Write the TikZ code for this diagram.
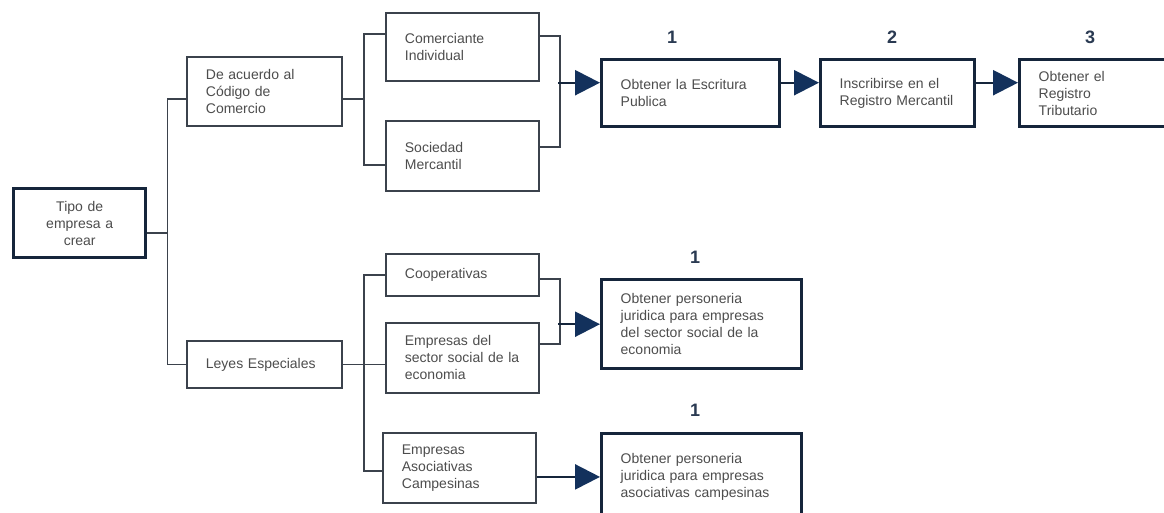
\documentclass[tikz,border=0pt]{standalone}
\usepackage{fontspec}
\setmainfont{Liberation Sans}
\usetikzlibrary{arrows.meta}

\definecolor{navyline}{HTML}{15253B}
\definecolor{greyline}{HTML}{3B424C}
\definecolor{arrowblue}{HTML}{13315C}
\definecolor{txt}{HTML}{4D4D4D}
\definecolor{numtxt}{HTML}{2A3A52}

\tikzset{
  x=1pt, y=-1pt,
  box/.style={draw=greyline, line width=1.8pt, rectangle, anchor=north west,
    inner xsep=19pt, inner ysep=0pt, align=left, text=txt,
    font=\fontsize{14}{17}\selectfont},
  stepbox/.style={box, draw=navyline, line width=3.4pt},
  conn/.style={draw=greyline, line width=1.8pt},
  arr/.style={draw=navyline, line width=2.4pt,
    -{Triangle[length=25pt,width=25pt,fill=arrowblue,color=arrowblue]}},
  stepnum/.style={text=numtxt, font=\fontsize{18}{20}\selectfont\bfseries}
}

\begin{document}
\begin{tikzpicture}
\useasboundingbox (0,0) rectangle (1164,512);
\clip (0,0) rectangle (1164,512);
\fill[white] (0,0) rectangle (1164,512);

% root
\node[stepbox, align=center, text width=94pt, minimum height=69pt] (tipo) at (12,187)
  {Tipo de\\empresa a\\crear};

% first level
\node[box, text width=117pt, minimum height=69pt] (acuerdo) at (186,56)
  {De acuerdo al\\Código de\\Comercio};
\node[box, text width=117pt, minimum height=47pt] (leyes) at (186,340)
  {Leyes Especiales};

% second level, commercial code
\node[box, text width=115pt, minimum height=68pt] (comer) at (385,12)
  {Comerciante\\Individual};
\node[box, text width=115pt, minimum height=70pt] (socie) at (385,120)
  {Sociedad\\Mercantil};

% second level, special laws
\node[box, text width=115pt, minimum height=42pt] (coop) at (385,253)
  {Cooperativas};
\node[box, text width=115pt, minimum height=70pt] (social) at (385,322)
  {Empresas del\\sector social de la\\economia};
\node[box, text width=115pt, minimum height=70pt] (asoc) at (382,432)
  {Empresas\\Asociativas\\Campesinas};

% steps
\node[stepbox, text width=140pt, minimum height=67pt] (escrit) at (600,58)
  {Obtener la Escritura\\Publica};
\node[stepbox, text width=116pt, minimum height=67pt] (inscr) at (819,58)
  {Inscribirse en el\\Registro Mercantil};
\node[stepbox, text width=119pt, minimum height=67pt] (tribut) at (1018,58)
  {Obtener el\\Registro\\Tributario};
\node[stepbox, text width=162pt, minimum height=89pt] (pers1) at (600,278)
  {Obtener personeria\\juridica para empresas\\del sector social de la\\economia};
\node[stepbox, text width=162pt, minimum height=86pt] (pers2) at (600,432)
  {Obtener personeria\\juridica para empresas\\asociativas campesinas};

% step numbers
\node[stepnum] (n1) at (672,37) {1};
\node[stepnum] (n2) at (892,37) {2};
\node[stepnum] (n3) at (1090,37) {3};
\node[stepnum] (n4) at (695,257) {1};
\node[stepnum] (n5) at (695,410) {1};

% tree from the root
\draw[conn] ([yshift=-10pt]tipo.east) -- ++(20,0);
\draw[conn] ([yshift=-7.5pt]acuerdo.west) -| ([xshift=20pt,yshift=-10pt]tipo.east)
  |- (leyes.west);

% commercial code branch
\draw[conn] ([yshift=-7.5pt]acuerdo.east) -- ++(21,0);
\draw[conn] ([yshift=13pt]comer.west) -| ([xshift=21pt,yshift=-7.5pt]acuerdo.east)
  |- ([yshift=-9pt]socie.west);

% merge into the first step
\draw[conn] ([yshift=11pt]comer.east) -| ([xshift=20pt,yshift=9pt]socie.east)
  -- ([yshift=9pt]socie.east);
\draw[arr] ([xshift=-42pt,yshift=10.5pt]escrit.west) -- ([yshift=10.5pt]escrit.west);
\draw[arr] ([yshift=10.5pt]escrit.east) -- ([yshift=10.5pt]inscr.west);
\draw[arr] ([yshift=10.5pt]inscr.east) -- ([yshift=10.5pt]tribut.west);

% special laws branch
\draw[conn] (coop.west) -| ([xshift=21pt]leyes.east) |- ([yshift=-3pt]asoc.west);
\draw[conn] (leyes.east) -- (social.west |- leyes.east);

% merge into legal personality steps
\draw[conn] ([yshift=-4pt]coop.east) -| ([xshift=20pt,yshift=14pt]social.east)
  -- ([yshift=14pt]social.east);
\draw[arr] ([xshift=-42pt]pers1.west) -- (pers1.west);
\draw[arr] ([yshift=-9pt]asoc.east) -- ([yshift=-9pt]asoc.east -| pers2.west);
\end{tikzpicture}
\end{document}
